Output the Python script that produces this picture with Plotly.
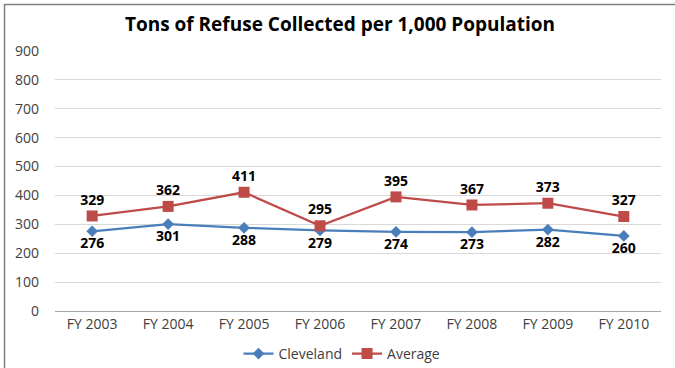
import plotly.graph_objects as go

categories = ["FY 2003", "FY 2004", "FY 2005", "FY 2006", "FY 2007", "FY 2008", "FY 2009", "FY 2010"]
cleveland = [276, 301, 288, 279, 274, 273, 282, 260]
average = [329, 362, 411, 295, 395, 367, 373, 327]
y_ticks = [0, 100, 200, 300, 400, 500, 600, 700, 800, 900]

W, H = 675, 368
ML, MR, MT, MB = 55, 14, 51, 57
pw, ph = W - ML - MR, H - MT - MB

fig = go.Figure()
fig.add_trace(go.Scatter(
    x=categories, y=cleveland, name="Cleveland", mode="lines+markers+text",
    line=dict(color="#4A7EBB", width=2.25),
    marker=dict(symbol="diamond", size=9, color="#4A7EBB"),
    text=[str(v) for v in cleveland], textposition="bottom center",
    textfont=dict(family="Open Sans", size=14, color="#000000", weight="bold"),
))
fig.add_trace(go.Scatter(
    x=categories, y=average, name="Average", mode="lines+markers+text",
    line=dict(color="#BE4B48", width=2.25),
    marker=dict(symbol="square", size=11, color="#BE4B48"),
    text=[str(v) for v in average], textposition="top center",
    textfont=dict(family="Open Sans", size=14, color="#000000", weight="bold"),
))

def px_x(x):
    return (x - ML) / pw

def px_y(y):
    return (H - MB - y) / ph

fig.update_layout(
    width=W, height=H,
    margin=dict(l=ML, r=MR, t=MT, b=MB, autoexpand=False),
    paper_bgcolor="white", plot_bgcolor="white",
    title=dict(text="<b>Tons of Refuse Collected per 1,000 Population</b>",
               x=340 / W, xref="container", xanchor="center",
               y=1 - 24 / H, yref="container", yanchor="middle",
               font=dict(family="Open Sans", size=19, color="#000000")),
    font=dict(family="Open Sans", size=14, color="#404040"),
    xaxis=dict(type="category", showgrid=False, showline=True, linecolor="#A6A6A6",
               linewidth=1, ticks="", automargin=False,
               tickfont=dict(size=14, color="#404040")),
    yaxis=dict(range=[0, 900], tickvals=y_ticks, showgrid=True, gridcolor="#D9D9D9",
               gridwidth=1, zeroline=False, showline=False, ticks="", automargin=False,
               tickfont=dict(size=14, color="#404040"), ticklabelstandoff=15),
    legend=dict(orientation="h", x=342 / W, xref="container", xanchor="center", yref="container",
                y=14 / H, yanchor="middle",
                font=dict(size=14, color="#404040"), itemwidth=30),
    showlegend=True,
    shapes=[
        dict(type="line", xref="paper", yref="paper", x0=px_x(4), x1=px_x(W), y0=px_y(4.5), y1=px_y(4.5),
             line=dict(color="#808080", width=1.5)),
        dict(type="line", xref="paper", yref="paper", x0=px_x(4.5), x1=px_x(4.5), y0=px_y(4), y1=px_y(H),
             line=dict(color="#808080", width=1.5)),
    ],
)

fig.write_html("out.html", config={"displayModeBar": False},
               post_script="document.body.style.margin='0';document.body.style.overflow='hidden';")
